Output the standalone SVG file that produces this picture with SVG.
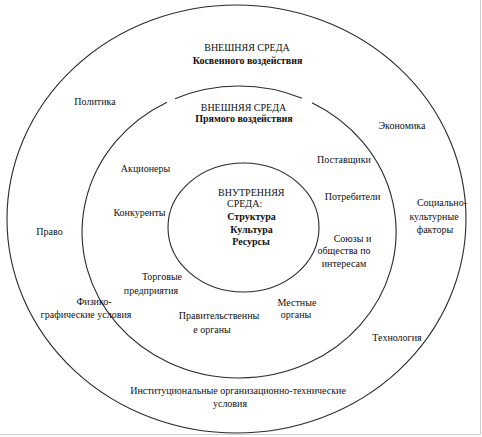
<svg xmlns="http://www.w3.org/2000/svg" width="482" height="437" viewBox="0 0 482 437" font-family="'Liberation Serif', 'Times New Roman', serif">
<style>
.ring{fill:none;stroke:#2a2a2a;stroke-width:1.1}
.frame{stroke:#d0d0d0;stroke-width:1;fill:none}
text{font-family:'Liberation Serif','Times New Roman',serif;font-size:10px;fill:#111;text-anchor:middle}
.b{font-weight:bold}
.s{text-anchor:start}
</style>
<rect width="482" height="437" fill="#ffffff"/>
<path class="frame" d="M480.5 0 V434.5 H0"/>
<g id="outer-ring">
<ellipse class="ring" cx="236.5" cy="219" rx="229.5" ry="214"/>
</g>
<g id="middle-ring">
<path class="ring" d="M312 102.7 A157 146 0 1 1 167 102.3"/>
<path class="ring" d="M175 98.7 A157 146 0 0 1 302 98.3"/>
</g>
<g id="inner-ring">
<ellipse class="ring" cx="243.5" cy="227.5" rx="75.5" ry="64.5"/>
</g>
<g id="outer-title">
<text x="247" y="51">ВНЕШНЯЯ СРЕДА</text>
<text class="b" x="247.5" y="64">Косвенного воздействия</text>
</g>
<g id="middle-title">
<text x="243.5" y="111">ВНЕШНЯЯ СРЕДА</text>
<text class="b" x="244" y="122">Прямого воздействия</text>
</g>
<g id="inner-title">
<text class="s" x="218" y="196">ВНУТРЕННЯЯ</text>
<text class="s" x="227" y="207">СРЕДА:</text>
<text class="b" x="251.5" y="220">Структура</text>
<text class="b" x="251.5" y="233">Культура</text>
<text class="b" x="251" y="245">Ресурсы</text>
</g>
<g id="politika"><text x="95" y="105">Политика</text></g>
<g id="ekonomika"><text x="402" y="129">Экономика</text></g>
<g id="pravo"><text x="49.5" y="235">Право</text></g>
<g id="socio"><text x="442" y="206">Социально-</text><text x="434" y="220">культурные</text><text x="435" y="233">факторы</text></g>
<g id="fiziko"><text x="94" y="305">Физико-</text><text x="86" y="318">графические условия</text></g>
<g id="tehnologia"><text x="397" y="341">Технология</text></g>
<g id="institut"><text x="238" y="393.5">Институциональные  организационно-технические</text><text x="230" y="407">условия</text></g>
<g id="akcionery"><text x="145.5" y="171.5">Акционеры</text></g>
<g id="konkurenty"><text x="139.5" y="216">Конкуренты</text></g>
<g id="postavshiki"><text x="344" y="163">Поставщики</text></g>
<g id="potrebiteli"><text x="352.5" y="199.5">Потребители</text></g>
<g id="soyuzy"><text x="352.5" y="242">Союзы и</text><text x="344" y="254">общества по</text><text x="344" y="266.5">интересам</text></g>
<g id="torgovye"><text x="162" y="280">Торговые</text><text x="151" y="293.5">предприятия</text></g>
<g id="pravitelstv"><text x="219" y="319">Правительственны</text><text x="212" y="332.5">е органы</text></g>
<g id="mestnye"><text x="297" y="306">Местные</text><text x="296" y="318">органы</text></g>
</svg>
